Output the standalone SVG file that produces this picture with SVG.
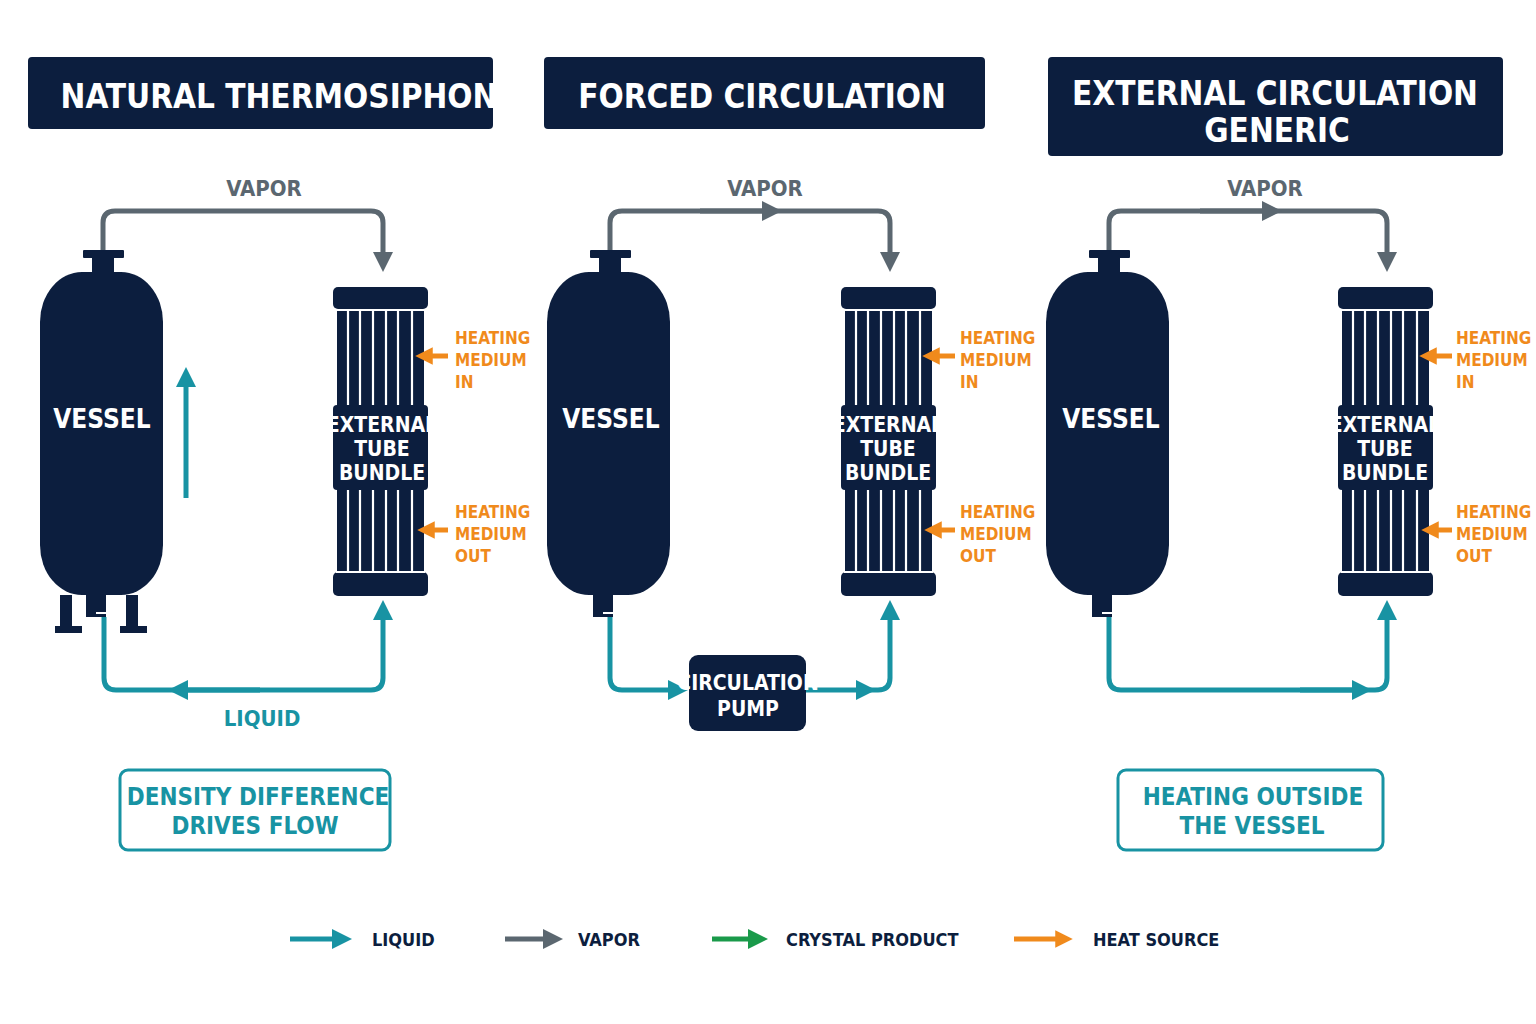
<svg xmlns="http://www.w3.org/2000/svg" width="1536" height="1024" viewBox="0 0 1536 1024">
<defs>
<style>
text{font-family:"Liberation Sans Narrow","DejaVu Sans Condensed","Liberation Sans",sans-serif;font-weight:bold;font-stretch:condensed;text-anchor:middle}
.title{fill:#fff;font-size:33px}
.navy{fill:#0c1e3e}
.vap{fill:none;stroke:#5b6770;stroke-width:5;stroke-linejoin:round}
.liq{fill:none;stroke:#1893a3;stroke-width:5;stroke-linejoin:round}
.heat{stroke:#f08a1c;stroke-width:5}
.ht{fill:#f08a1c;font-size:17px;text-anchor:start}
.lbl{fill:#fff;font-size:26px}
.xl{fill:#fff;font-size:21px}
.tube{stroke:#fff;stroke-width:2.2}
.note{fill:#fff;stroke:#1893a3;stroke-width:3}
.nt{fill:#1893a3;font-size:24px}
.lg{fill:#0c1e3e;font-size:18px;text-anchor:start}
</style>
<marker id="av" viewBox="0 0 10 10" refX="5" refY="5" markerWidth="4" markerHeight="4" orient="auto"><path d="M0,0L10,5L0,10z" fill="#5b6770"/></marker>
<marker id="al" viewBox="0 0 10 10" refX="5" refY="5" markerWidth="4" markerHeight="4" orient="auto"><path d="M0,0L10,5L0,10z" fill="#1893a3"/></marker>
<marker id="ah" viewBox="0 0 10 10" refX="5" refY="5" markerWidth="3.5" markerHeight="3.5" orient="auto"><path d="M0,0L10,5L0,10z" fill="#f08a1c"/></marker>
<marker id="ag" viewBox="0 0 10 10" refX="5" refY="5" markerWidth="4" markerHeight="4" orient="auto"><path d="M0,0L10,5L0,10z" fill="#1a9a4a"/></marker>
<g id="vesselShape">
<rect x="-9" y="0" width="41" height="8" rx="1"/>
<rect x="0" y="8" width="22" height="16"/>
<rect x="-52" y="22" width="123" height="323" rx="42" ry="50"/>
<rect x="-6" y="340" width="20" height="22"/>
<rect x="-6" y="362" width="20" height="5"/>
</g>
<g id="hx">
<rect x="0" y="0" width="95" height="22" rx="5"/>
<rect x="4" y="22" width="87" height="263"/>
<rect x="0" y="285" width="95" height="24" rx="5"/>
<g class="tube"><line x1="15" y1="24" x2="15" y2="285"/><line x1="27" y1="24" x2="27" y2="285"/><line x1="40" y1="24" x2="40" y2="285"/><line x1="53" y1="24" x2="53" y2="285"/><line x1="65" y1="24" x2="65" y2="285"/><line x1="79" y1="24" x2="79" y2="285"/></g>
<line x1="3" y1="23" x2="92" y2="23" stroke="#fff" stroke-width="2"/>
<line x1="3" y1="285" x2="92" y2="285" stroke="#fff" stroke-width="2"/>
<rect x="0" y="118" width="95" height="85" rx="4"/>
</g>
</defs>
<rect width="1536" height="1024" fill="#fff"/>

<g id="titles">
<rect x="28" y="57" width="465" height="72" rx="4" class="navy"/><text x="279" y="108" class="title">NATURAL THERMOSIPHON</text>
<rect x="544" y="57" width="441" height="72" rx="4" class="navy"/><text x="762" y="108" class="title">FORCED CIRCULATION</text>
<rect x="1048" y="57" width="455" height="99" rx="4" class="navy"/><text x="1275" y="105" class="title">EXTERNAL CIRCULATION</text><text x="1277" y="142" class="title">GENERIC</text>
</g>

<g id="connectors">
<path class="vap" d="M103,250V223Q103,211 115,211H371Q383,211 383,223V262" marker-end="url(#av)"/>
<path class="liq" d="M104,617V678Q104,690 116,690H371Q383,690 383,678V610" marker-end="url(#al)"/>
<path class="liq" d="M260,690H178" marker-end="url(#al)"/>
<line class="liq" x1="186" y1="498" x2="186" y2="377" marker-end="url(#al)"/>
<path class="vap" d="M610,250V223Q610,211 622,211H878Q890,211 890,223V262" marker-end="url(#av)"/>
<path class="vap" d="M700,211H772" marker-end="url(#av)"/>
<path class="liq" d="M610,617V678Q610,690 622,690H678" marker-end="url(#al)"/>
<path class="liq" d="M806,690H866" marker-end="url(#al)"/>
<path class="liq" d="M860,690H878Q890,690 890,678V610" marker-end="url(#al)"/>
<path class="vap" d="M1109,250V223Q1109,211 1121,211H1375Q1387,211 1387,223V262" marker-end="url(#av)"/>
<path class="vap" d="M1200,211H1272" marker-end="url(#av)"/>
<path class="liq" d="M1109,617V678Q1109,690 1121,690H1375Q1387,690 1387,678V610" marker-end="url(#al)"/>
<path class="liq" d="M1300,690H1362" marker-end="url(#al)"/>
</g>

<g id="labels">
<text x="264" y="196" style="fill:#5b6770;font-size:22px">VAPOR</text>
<text x="765" y="196" style="fill:#5b6770;font-size:22px">VAPOR</text>
<text x="1265" y="196" style="fill:#5b6770;font-size:22px">VAPOR</text>
<text x="262" y="726" style="fill:#1893a3;font-size:22px">LIQUID</text>
</g>

<g id="vessel1" class="navy">
<use href="#vesselShape" x="92" y="250"/>
<rect x="60" y="595" width="12" height="33"/><rect x="55" y="626" width="27" height="7"/>
<rect x="126" y="595" width="12" height="33"/><rect x="120" y="626" width="27" height="7"/>
<rect x="96" y="612" width="16" height="2" fill="#fff"/>
<text x="102" y="428" class="lbl">VESSEL</text>
</g>
<g id="vessel2" class="navy">
<use href="#vesselShape" x="599" y="250"/>
<rect x="603" y="612" width="16" height="2" fill="#fff"/>
<text x="611" y="428" class="lbl">VESSEL</text>
</g>
<g id="vessel3" class="navy">
<use href="#vesselShape" x="1098" y="250"/>
<rect x="1102" y="612" width="16" height="2" fill="#fff"/>
<text x="1111" y="428" class="lbl">VESSEL</text>
</g>

<g id="hx1" class="navy">
<use href="#hx" x="333" y="287"/>
<text x="382" y="432" class="xl">EXTERNAL</text><text x="382" y="456" class="xl">TUBE</text><text x="382" y="480" class="xl">BUNDLE</text>
</g>
<g id="hx2" class="navy">
<use href="#hx" x="841" y="287"/>
<text x="888" y="432" class="xl">EXTERNAL</text><text x="888" y="456" class="xl">TUBE</text><text x="888" y="480" class="xl">BUNDLE</text>
</g>
<g id="hx3" class="navy">
<use href="#hx" x="1338" y="287"/>
<text x="1385" y="432" class="xl">EXTERNAL</text><text x="1385" y="456" class="xl">TUBE</text><text x="1385" y="480" class="xl">BUNDLE</text>
</g>

<g id="heat">
<line class="heat" x1="448" y1="356" x2="424" y2="356" marker-end="url(#ah)"/>
<line class="heat" x1="448" y1="530" x2="426" y2="530" marker-end="url(#ah)"/>
<line class="heat" x1="955" y1="356" x2="931" y2="356" marker-end="url(#ah)"/>
<line class="heat" x1="955" y1="530" x2="933" y2="530" marker-end="url(#ah)"/>
<line class="heat" x1="1452" y1="356" x2="1428" y2="356" marker-end="url(#ah)"/>
<line class="heat" x1="1452" y1="530" x2="1430" y2="530" marker-end="url(#ah)"/>
<text x="455" y="344" class="ht">HEATING</text><text x="455" y="366" class="ht">MEDIUM</text><text x="455" y="388" class="ht">IN</text>
<text x="455" y="518" class="ht">HEATING</text><text x="455" y="540" class="ht">MEDIUM</text><text x="455" y="562" class="ht">OUT</text>
<text x="960" y="344" class="ht">HEATING</text><text x="960" y="366" class="ht">MEDIUM</text><text x="960" y="388" class="ht">IN</text>
<text x="960" y="518" class="ht">HEATING</text><text x="960" y="540" class="ht">MEDIUM</text><text x="960" y="562" class="ht">OUT</text>
<text x="1456" y="344" class="ht">HEATING</text><text x="1456" y="366" class="ht">MEDIUM</text><text x="1456" y="388" class="ht">IN</text>
<text x="1456" y="518" class="ht">HEATING</text><text x="1456" y="540" class="ht">MEDIUM</text><text x="1456" y="562" class="ht">OUT</text>
</g>

<g id="pump">
<rect x="689" y="655" width="117" height="76" rx="9" class="navy"/>
<text x="748" y="690" class="xl">CIRCULATION</text><text x="748" y="716" class="xl">PUMP</text>
</g>

<g id="note1">
<rect x="120" y="770" width="270" height="80" rx="8" class="note"/>
<text x="258" y="805" class="nt">DENSITY DIFFERENCE</text><text x="255" y="834" class="nt">DRIVES FLOW</text>
</g>
<g id="note3">
<rect x="1118" y="770" width="265" height="80" rx="8" class="note"/>
<text x="1253" y="805" class="nt">HEATING OUTSIDE</text><text x="1252" y="834" class="nt">THE VESSEL</text>
</g>

<g id="legend">
<line x1="290" y1="939" x2="342" y2="939" stroke="#1893a3" stroke-width="5" marker-end="url(#al)"/><text x="372" y="946" class="lg">LIQUID</text>
<line x1="505" y1="939" x2="553" y2="939" stroke="#5b6770" stroke-width="5" marker-end="url(#av)"/><text x="578" y="946" class="lg">VAPOR</text>
<line x1="712" y1="939" x2="758" y2="939" stroke="#1a9a4a" stroke-width="5" marker-end="url(#ag)"/><text x="786" y="946" class="lg">CRYSTAL PRODUCT</text>
<line x1="1014" y1="939" x2="1064" y2="939" stroke="#f08a1c" stroke-width="5" marker-end="url(#ah)"/><text x="1093" y="946" class="lg">HEAT SOURCE</text>
</g>
</svg>
